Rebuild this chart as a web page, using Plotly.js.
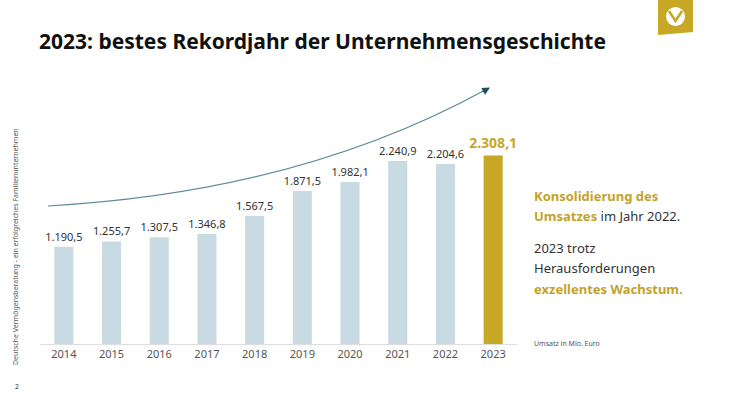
<!DOCTYPE html>
<html><head><meta charset="utf-8">
<script src="https://cdn.plot.ly/plotly-3.0.1.min.js"></script>
<style>html,body{margin:0;padding:0;background:#fff}#chart{width:732px;height:412px}</style>
</head><body><div id="chart"></div>
<script>
const years = ['2014','2015','2016','2017','2018','2019','2020','2021','2022','2023'];
const umsatz = [1190.5, 1255.7, 1307.5, 1346.8, 1567.5, 1871.5, 1982.1, 2240.9, 2204.6, 2308.1];
const barColors = ['#c9dbe2','#c9dbe2','#c9dbe2','#c9dbe2','#c9dbe2','#c9dbe2','#c9dbe2','#c9dbe2','#c9dbe2','#c6a824'];
const labelTemplates = ['%{y:,.1f}','%{y:,.1f}','%{y:,.1f}','%{y:,.1f}','%{y:,.1f}','%{y:,.1f}','%{y:,.1f}','%{y:,.1f}','%{y:,.1f}','<b>%{y:,.1f}</b>'];
const labelColors = ['#333','#333','#333','#333','#333','#333','#333','#333','#333','#c6a824'];
const labelSizes = [11,11,11,11,11,11,11,11,11,14];

const W = 732, H = 412;
const px = x => x / W, py = y => 1 - y / H;
const P = (x, y) => px(x).toFixed(4) + ',' + py(y).toFixed(4);

const gold = '#c4a22a';
const font = 'Noto Sans, Open Sans, sans-serif';

const trace = {
  type: 'bar', x: years, y: umsatz,
  marker: {color: barColors},
  texttemplate: labelTemplates, textposition: 'outside', cliponaxis: false, constraintext: 'none',
  textfont: {family: font, size: labelSizes, color: labelColors},
  hoverinfo: 'skip'
};

const layout = {
  width: W, height: H,
  margin: {l: 0, r: 0, t: 0, b: 0},
  paper_bgcolor: '#fff', plot_bgcolor: '#fff',
  separators: ',.',
  showlegend: false,
  bargap: 0.6,
  font: {family: font, color: '#333'},
  title: {text: '<b>2023: bestes Rekordjahr der Unternehmensgeschichte</b>', xref: 'paper', yref: 'paper',
          x: px(39), xanchor: 'left', y: py(42), yanchor: 'middle',
          font: {family: font, size: 21, color: '#111'}},
  xaxis: {type: 'category', domain: [px(40), px(517)], range: [-0.5, 9.5],
          showline: true, linecolor: '#dedede', linewidth: 1, showgrid: false, ticks: '',
          tickfont: {family: font, size: 11, color: '#555'}, automargin: false, fixedrange: true},
  yaxis: {domain: [py(344), py(60)], range: [0, 3476], visible: false, showgrid: false,
          zeroline: false, fixedrange: true},
  shapes: [
    {type: 'path', xref: 'paper', yref: 'paper',
     path: 'M' + P(48, 206) + ' Q' + P(300, 192) + ' ' + P(487, 89),
     line: {color: '#5f8a98', width: 1.2}},
    {type: 'path', xref: 'paper', yref: 'paper',
     path: 'M' + P(658, 0) + ' L' + P(693, 0) + ' L' + P(693, 32) + ' L' + P(658, 35) + ' Z',
     fillcolor: '#c6a824', line: {width: 0}},
    {type: 'circle', xref: 'paper', yref: 'paper',
     x0: px(666), x1: px(685), y0: py(26), y1: py(7),
     fillcolor: '#fff', line: {width: 0}},
    {type: 'path', xref: 'paper', yref: 'paper',
     path: 'M' + P(669, 11) + ' L' + P(675.5, 21) + ' L' + P(682, 11),
     line: {color: '#c6a824', width: 2.5}}
  ],
  annotations: [
    {xref: 'paper', yref: 'paper', x: px(490), y: py(87.5), ax: -9, ay: 5, text: '',
     showarrow: true, arrowhead: 2, arrowsize: 1.3, arrowwidth: 1.2, arrowcolor: '#1d4e63'},
    {xref: 'paper', yref: 'paper', x: px(532), y: py(196), xanchor: 'left', yanchor: 'middle', showarrow: false,
     text: '<b>Konsolidierung des</b>', font: {family: font, size: 13, color: gold}},
    {xref: 'paper', yref: 'paper', x: px(532), y: py(216), xanchor: 'left', yanchor: 'middle', showarrow: false,
     text: '<b><span style="color:' + gold + '">Umsatzes</span></b> im Jahr 2022.', font: {family: font, size: 13, color: '#333'}},
    {xref: 'paper', yref: 'paper', x: px(532), y: py(248), xanchor: 'left', yanchor: 'middle', showarrow: false,
     text: '2023 trotz', font: {family: font, size: 13, color: '#333'}},
    {xref: 'paper', yref: 'paper', x: px(532), y: py(268), xanchor: 'left', yanchor: 'middle', showarrow: false,
     text: 'Herausforderungen', font: {family: font, size: 13, color: '#333'}},
    {xref: 'paper', yref: 'paper', x: px(532), y: py(289), xanchor: 'left', yanchor: 'middle', showarrow: false,
     text: '<b>exzellentes Wachstum.</b>', font: {family: font, size: 13, color: gold}},
    {xref: 'paper', yref: 'paper', x: px(532), y: py(343), xanchor: 'left', yanchor: 'middle', showarrow: false,
     text: 'Umsatz in Mio. Euro', font: {family: font, size: 7, color: '#555'}},
    {xref: 'paper', yref: 'paper', x: px(16), y: py(247), xanchor: 'center', yanchor: 'middle', showarrow: false,
     textangle: -90, text: 'Deutsche Vermögensberatung - ein erfolgreiches Familienunternehmen',
     font: {family: font, size: 7, color: '#555'}},
    {xref: 'paper', yref: 'paper', x: px(17), y: py(386), xanchor: 'center', yanchor: 'middle', showarrow: false,
     text: '2', font: {family: font, size: 7, color: '#333'}}
  ]
};

Plotly.newPlot('chart', [trace], layout, {displayModeBar: false, staticPlot: true});
</script>
</body></html>
